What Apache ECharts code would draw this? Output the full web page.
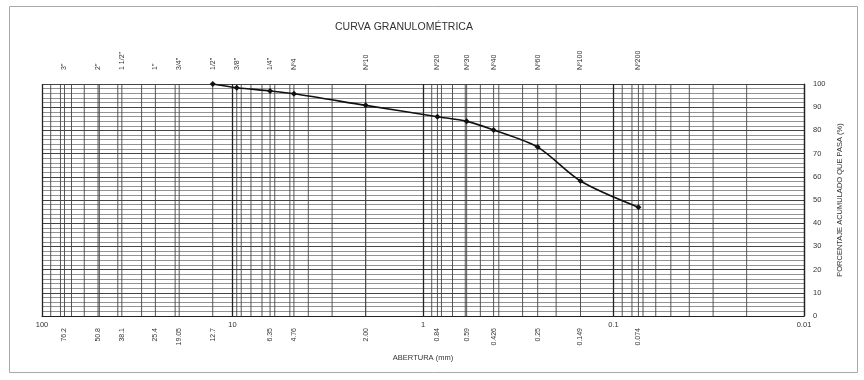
<!DOCTYPE html>
<html>
<head>
<meta charset="utf-8">
<script src="https://cdn.jsdelivr.net/npm/echarts@6/dist/echarts.min.js"></script>
<style>
  html, body { margin: 0; padding: 0; background: #fff; }
  #chart { width: 864px; height: 380px; }
</style>
</head>
<body>
<div id="chart"></div>
<script>
// Grain-size test results: sieve opening (mm) and cumulative percent passing
const sieveOpenings = [12.7, 9.5, 6.35, 4.76, 2.00, 0.84, 0.59, 0.426, 0.25, 0.149, 0.074];
const percentPassing = [100, 98.4, 97.0, 95.8, 90.8, 85.9, 83.9, 80.2, 72.8, 58.2, 46.9];

// Sieve designations printed above the grid
const sieveNames = ['3"', '2"', '1 1/2"', '1"', '3/4"', '1/2"', '3/8"', '1/4"', 'Nº4', 'Nº10', 'Nº20', 'Nº30', 'Nº40', 'Nº60', 'Nº100', 'Nº200'];
const sieveSizes = [76.2, 50.8, 38.1, 25.4, 19.05, 12.7, 9.5, 6.35, 4.76, 2.00, 0.84, 0.59, 0.426, 0.25, 0.149, 0.074];

// Openings printed below the grid
const openingLabels = ['76.2', '50.8', '38.1', '25.4', '19.05', '12.7', '6.35', '4.76', '2.00', '0.84', '0.59', '0.426', '0.25', '0.149', '0.074'];
const openingValues = [76.2, 50.8, 38.1, 25.4, 19.05, 12.7, 6.35, 4.76, 2.00, 0.84, 0.59, 0.426, 0.25, 0.149, 0.074];

// Decade labels of the log axis
const decadeTicks = [100, 10, 1, 0.1, 0.01];

// Vertical rulings of the semi-log paper: 2..9 in each decade, plus every sieve size
const minorGrid = [];
[0.01, 0.1, 1, 10].forEach(function (d) {
  for (let k = 2; k <= 9; k++) minorGrid.push(+(k * d).toPrecision(3));
});
const verticalRules = minorGrid.concat(sieveSizes);

const FONT = '"Liberation Sans", Arial, sans-serif';
const TXT = '#333';

const chart = echarts.init(document.getElementById('chart'));

chart.setOption({
  animation: false,
  backgroundColor: '#fff',
  title: {
    text: 'CURVA GRANULOMÉTRICA',
    left: 330,
    top: 17,
    textStyle: { fontFamily: FONT, fontSize: 10.5, fontWeight: 'normal', color: TXT }
  },
  graphic: [{
    type: 'rect',
    shape: { x: 9.5, y: 6.5, width: 848, height: 366 },
    style: { fill: 'none', stroke: '#a8a8a8', lineWidth: 1 },
    silent: true,
    z: -10
  }],
  grid: { left: 42, right: 60, top: 84, bottom: 64 },
  xAxis: {
    type: 'log',
    logBase: 10,
    min: 0.01,
    max: 100,
    inverse: true,
    name: 'ABERTURA (mm)',
    nameLocation: 'middle',
    nameGap: 38,
    nameTextStyle: { fontFamily: FONT, fontSize: 7.5, color: TXT },
    axisLine: { show: true, onZero: false, lineStyle: { color: '#222', width: 1.2 } },
    axisTick: { show: false },
    axisLabel: {
      fontFamily: FONT, fontSize: 7.5, color: TXT, margin: 5,
      formatter: function (v) {
        const hit = decadeTicks.find(function (t) { return Math.abs(t - v) / t < 1e-6; });
        return hit === undefined ? '' : String(hit);
      }
    },
    splitLine: { show: true, lineStyle: { color: '#222', width: 1.3 } }
  },
  yAxis: {
    type: 'value',
    position: 'right',
    min: 0,
    max: 100,
    interval: 10,
    name: 'PORCENTAJE ACUMULADO QUE PASA (%)',
    nameLocation: 'middle',
    nameRotate: 90,
    nameGap: 28,
    nameTextStyle: { fontFamily: FONT, fontSize: 7.5, color: TXT },
    axisLine: { show: true, lineStyle: { color: '#222', width: 1.2 } },
    axisTick: { show: false },
    axisLabel: { fontFamily: FONT, fontSize: 7.5, color: TXT, margin: 9 },
    splitLine: { show: true, lineStyle: { color: '#444', width: 1 } },
    minorTick: { show: false, splitNumber: 5 },
    minorSplitLine: { show: true, lineStyle: { color: '#777', width: 0.8 } }
  },
  series: [
    {
      // vertical rulings of the log paper
      type: 'custom',
      silent: true,
      z: 1,
      data: verticalRules.map(function (v) { return [v, 0]; }),
      renderItem: function (params, api) {
        const x = api.value(0);
        const a = api.coord([x, 0]);
        const b = api.coord([x, 100]);
        return {
          type: 'line',
          shape: { x1: a[0], y1: a[1], x2: b[0], y2: b[1] },
          style: { stroke: '#444', lineWidth: 0.9 }
        };
      }
    },
    {
      // sieve designations above the grid
      type: 'custom',
      silent: true,
      clip: false,
      data: sieveSizes.map(function (v) { return [v, 100]; }),
      renderItem: function (params, api) {
        const p = api.coord([api.value(0), 100]);
        return {
          type: 'text',
          x: p[0],
          y: p[1] - 14,
          rotation: Math.PI / 2,
          style: {
            text: sieveNames[params.dataIndex],
            fontFamily: FONT, fontSize: 7, fill: TXT,
            align: 'left', verticalAlign: 'middle'
          }
        };
      }
    },
    {
      // opening sizes below the grid
      type: 'custom',
      silent: true,
      clip: false,
      data: openingValues.map(function (v) { return [v, 0]; }),
      renderItem: function (params, api) {
        const p = api.coord([api.value(0), 0]);
        return {
          type: 'text',
          x: p[0],
          y: p[1] + 12,
          rotation: Math.PI / 2,
          style: {
            text: openingLabels[params.dataIndex],
            fontFamily: FONT, fontSize: 7, fill: TXT,
            align: 'right', verticalAlign: 'middle'
          }
        };
      }
    },
    {
      // grading curve
      type: 'line',
      z: 5,
      smooth: 0.3,
      data: sieveOpenings.map(function (v, i) { return [v, percentPassing[i]]; }),
      symbol: 'diamond',
      symbolSize: 6,
      lineStyle: { color: '#111', width: 1.6 },
      itemStyle: { color: '#111' }
    }
  ]
});
</script>
</body>
</html>
